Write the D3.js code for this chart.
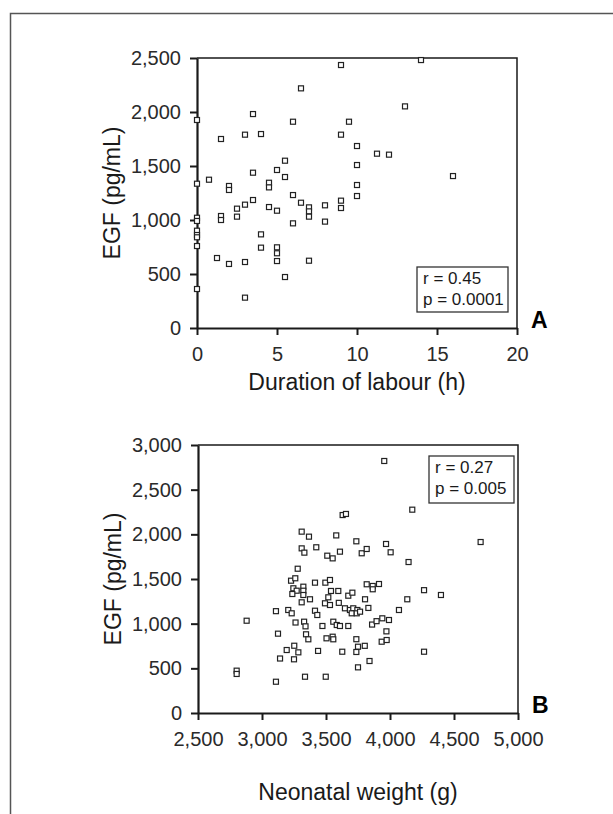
<!DOCTYPE html>
<html>
<head>
<meta charset="utf-8">
<script src="https://cdn.jsdelivr.net/npm/d3@7"></script>
<style>
  body { margin: 0; background: #fff; }
  svg { display: block; font-family: "Liberation Sans", Arial, sans-serif; }
</style>
</head>
<body>
<div id="chart"></div>
<script>
// Panel A: duration of labour (h) vs EGF (pg/mL)
const labourHours = [0, 0, 0, 0, 0, 0, 0, 0, 0,
                     0.75, 1.25, 1.5, 1.5, 1.5,
                     2, 2, 2, 2.5, 2.5,
                     3, 3, 3, 3, 3.5, 3.5, 3.5,
                     4, 4, 4, 4.5, 4.5, 4.5,
                     5, 5, 5, 5, 5, 5.5, 5.5, 5.5,
                     6, 6, 6, 6.5, 6.5,
                     7, 7, 7, 7, 8, 8,
                     9, 9, 9, 9, 9.5,
                     10, 10, 10, 10,
                     11.25, 12, 13, 14, 16]
const labourEGF = [1926, 1336, 1021, 991, 901, 861, 840, 759, 361,
                   1373, 648, 1750, 1037, 1000,
                   1315, 1278, 593, 1105, 1031,
                   1790, 1142, 611, 281, 1981, 1438, 1185,
                   1796, 867, 744, 1345, 1302, 1120,
                   1463, 1086, 747, 692, 620, 1549, 1398, 472,
                   1910, 1231, 969, 2219, 1160,
                   1117, 1080, 1031, 623, 1136, 985,
                   2435, 1790, 1179, 1111, 1910,
                   1685, 1509, 1324, 1222,
                   1614, 1605, 2052, 2481, 1407]

// Panel B: neonatal weight (g) vs EGF (pg/mL)
const weightGrams = [3955, 4174, 3630, 3656, 3310, 3367, 3580, 3737, 4708, 3969,
                     4005, 3310, 3331, 3424, 3510, 3552, 3609, 3779, 3818, 4145,
                     3279, 3227, 3260, 3414, 3495, 3531, 3818, 3865, 3865, 3914,
                     4266, 4398, 3245, 3271, 3237, 3323, 3323, 3323, 3375, 3310,
                     3539, 3596, 3518, 3531, 3492, 3600, 3674, 3706, 3805, 4135,
                     3109, 3205, 3232, 3414, 3432, 3648, 3687, 3713, 3745, 3701,
                     3740, 3766, 3831, 4070, 3262, 3329, 3340, 3472, 3557, 3584,
                     3609, 3674, 3860, 3895, 3940, 3992, 2880, 3125, 3344, 3362,
                     3504, 3552, 3557, 3737, 3972, 3935, 3974, 3252, 3193, 3284,
                     3141, 3250, 3438, 3627, 3750, 3803, 3737, 3840, 3750, 3336,
                     3498, 3109, 2802, 2802, 4266]
const weightEGF = [2821, 2276, 2216, 2228, 2030, 1974, 1988, 1922, 1914, 1892,
                   1799, 1843, 1795, 1855, 1761, 1731, 1806, 1788, 1836, 1690,
                   1615, 1481, 1508, 1459, 1459, 1489, 1441, 1422, 1385, 1444,
                   1375, 1321, 1396, 1369, 1332, 1414, 1369, 1321, 1273, 1239,
                   1366, 1366, 1295, 1209, 1228, 1233, 1313, 1347, 1273, 1273,
                   1140, 1153, 1116, 1145, 1097, 1172, 1153, 1172, 1153, 1116,
                   1116, 1134, 1176, 1153, 1013, 1022, 970, 974, 1022, 985,
                   974, 974, 990, 1028, 1060, 1041, 1033, 888, 881, 825,
                   836, 854, 825, 826, 914, 798, 817, 753, 705, 679,
                   610, 601, 695, 686, 742, 752, 683, 582, 511, 406,
                   406, 350, 474, 437, 686]

// ticks and annotations
const labourTicks = [0, 5, 10, 15, 20]
const egfTicksA = [0, 500, 1000, 1500, 2000, 2500]
const weightTicks = [2500, 3000, 3500, 4000, 4500, 5000]
const egfTicksB = [0, 500, 1000, 1500, 2000, 2500, 3000]
const statsA = ['r = 0.45', 'p = 0.0001']
const statsB = ['r = 0.27', 'p = 0.005']

const width = 613
const height = 814
const ink = '#1a1a1a'

const svg = d3.select('#chart')
  .append('svg')
  .attr('width', width)
  .attr('height', height)

// outer frame (only left + top visible in the crop)
svg.append('path')
  .attr('d', 'M10.5,' + height + ' V13.5 H' + width)
  .attr('fill', 'none')
  .attr('stroke', '#555')
  .attr('stroke-width', 1.5)

function panel(opts) {
  const x = d3.scaleLinear().domain(opts.xDomain).range([opts.left, opts.right])
  const y = d3.scaleLinear().domain(opts.yDomain).range([opts.bottom, opts.top])
  const g = svg.append('g')

  // top + right box lines
  g.append('path')
    .attr('d', 'M' + opts.left + ',' + opts.top + ' H' + opts.right + ' V' + opts.bottom)
    .attr('fill', 'none')
    .attr('stroke', ink)
    .attr('stroke-width', 1.5)

  const xAxis = d3.axisBottom(x).tickValues(opts.xTicks).tickSize(7).tickSizeOuter(0)
    .tickPadding(12).tickFormat(opts.xFormat)
  const yAxis = d3.axisLeft(y).tickValues(opts.yTicks).tickSize(7).tickSizeOuter(0)
    .tickPadding(9).tickFormat(d3.format(','))

  const gx = g.append('g')
    .attr('transform', 'translate(0,' + opts.bottom + ')')
    .call(xAxis)
  const gy = g.append('g')
    .attr('transform', 'translate(' + opts.left + ',0)')
    .call(yAxis)

  ;[gx, gy].forEach(a => {
    a.select('.domain').attr('stroke', ink).attr('stroke-width', 2.2)
    a.selectAll('.tick line').attr('stroke', ink).attr('stroke-width', 2)
    a.selectAll('.tick text')
      .attr('fill', '#2a2a2a')
      .style('font-size', '20px')
      .style('font-family', '"Liberation Sans", Arial, sans-serif')
  })

  // points
  g.selectAll('rect.pt')
    .data(opts.xs.map((v, i) => [v, opts.ys[i]]))
    .enter()
    .append('rect')
    .attr('class', 'pt')
    .attr('x', d => x(d[0]) - 2.5)
    .attr('y', d => y(d[1]) - 2.5)
    .attr('width', 5)
    .attr('height', 5)
    .attr('fill', '#fff')
    .attr('stroke', '#222')
    .attr('stroke-width', 1.2)

  // axis titles
  g.append('text')
    .attr('x', (opts.left + opts.right) / 2)
    .attr('y', opts.bottom + opts.xTitleGap)
    .attr('text-anchor', 'middle')
    .attr('fill', ink)
    .style('font-size', '23px')
    .text(opts.xTitle)

  g.append('text')
    .attr('transform', 'translate(' + (opts.left - 77) + ',' + ((opts.top + opts.bottom) / 2) + ') rotate(-90)')
    .attr('text-anchor', 'middle')
    .attr('fill', ink)
    .style('font-size', '23px')
    .text('EGF (pg/mL)')

  // stats box
  const b = opts.statBox
  g.append('rect')
    .attr('x', b[0]).attr('y', b[1])
    .attr('width', b[2]).attr('height', b[3])
    .attr('fill', '#fff')
    .attr('stroke', '#333')
    .attr('stroke-width', 1.3)
  g.selectAll('text.stat')
    .data(opts.stats)
    .enter()
    .append('text')
    .attr('class', 'stat')
    .attr('x', b[0] + 6)
    .attr('y', (d, i) => b[1] + 17 + i * 21)
    .attr('fill', ink)
    .style('font-size', '17px')
    .text(d => d)

  // panel letter
  g.append('text')
    .attr('x', opts.right + 14)
    .attr('y', opts.bottom)
    .attr('fill', '#000')
    .style('font-size', '23px')
    .style('font-weight', 'bold')
    .text(opts.letter)
}

panel({
  xDomain: [0, 20], yDomain: [0, 2500],
  left: 197, right: 517, top: 58, bottom: 328,
  xTicks: labourTicks, yTicks: egfTicksA, xFormat: d3.format('d'),
  xs: labourHours, ys: labourEGF,
  xTitle: 'Duration of labour (h)', xTitleGap: 62,
  statBox: [417, 267, 91, 45], stats: statsA,
  letter: 'A'
})

panel({
  xDomain: [2500, 5000], yDomain: [0, 3000],
  left: 198, right: 518, top: 445, bottom: 713,
  xTicks: weightTicks, yTicks: egfTicksB, xFormat: d3.format(','),
  xs: weightGrams, ys: weightEGF,
  xTitle: 'Neonatal weight (g)', xTitleGap: 87,
  statBox: [429, 456, 85, 47], stats: statsB,
  letter: 'B'
})
</script>
</body>
</html>
